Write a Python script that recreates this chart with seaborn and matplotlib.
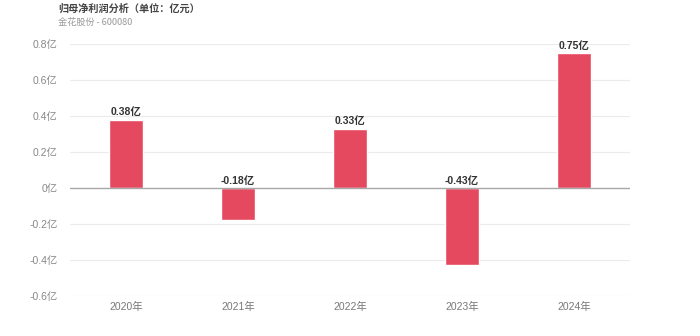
import matplotlib
matplotlib.use("Agg")
import matplotlib.pyplot as plt
import seaborn as sns
import pandas as pd

years = ["2020年", "2021年", "2022年", "2023年", "2024年"]
profit = [0.38, -0.18, 0.33, -0.43, 0.75]
yticks = [-0.6, -0.4, -0.2, 0.0, 0.2, 0.4, 0.6, 0.8]
ytick_labels = ["-0.6亿", "-0.4亿", "-0.2亿", "0亿", "0.2亿", "0.4亿", "0.6亿", "0.8亿"]

sns.set_style("white")
plt.rcParams["font.family"] = ["Liberation Sans", "Noto Sans CJK SC", "DejaVu Sans"]
cjk = ["Noto Sans CJK SC", "DejaVu Sans"]

df = pd.DataFrame({"year": years, "profit": profit})

fig = plt.figure(figsize=(7, 3.36), dpi=100)
ax = fig.add_axes([0.1, 0.119, 0.8, 0.75])

sns.barplot(data=df, x="year", y="profit", color="#E5495F", width=0.3,
            saturation=1, ax=ax, zorder=3)

ax.set_ylim(-0.6, 0.8)
ax.set_xlim(-0.5, 4.5)
ax.set_yticks(yticks)
ax.set_yticklabels(ytick_labels)
for y in yticks:
    if y != 0:
        ax.axhline(y, color="#EBEBEB", lw=0.8, zorder=1)
ax.axhline(0, color="#A8A8A8", lw=1.0, zorder=4)

for s in ax.spines.values():
    s.set_visible(False)
ax.tick_params(axis="y", length=6, color="#CCCCCC", width=0.8, labelsize=7.5,
               labelcolor="#888888", pad=3)
ax.tick_params(axis="x", length=0, labelsize=7.5, labelcolor="#777777", pad=4)
ax.set_xlabel("")
ax.set_ylabel("")

for i, v in enumerate(profit):
    y = v if v > 0 else 0
    ax.text(i, y + 0.012, f"{v:.2f}亿", ha="center", va="bottom",
            fontsize=7.5, fontweight="bold", color="#333333", zorder=5)

fig.text(0.083, 0.99, "归母净利润分析（单位：亿元）", ha="left", va="top",
         fontsize=7.3, fontweight="bold", color="#444444", family=cjk)
fig.text(0.083, 0.948, "金花股份 - 600080", ha="left", va="top",
         fontsize=6.6, color="#999999", family=cjk)

fig.savefig("out.png", dpi=100)
